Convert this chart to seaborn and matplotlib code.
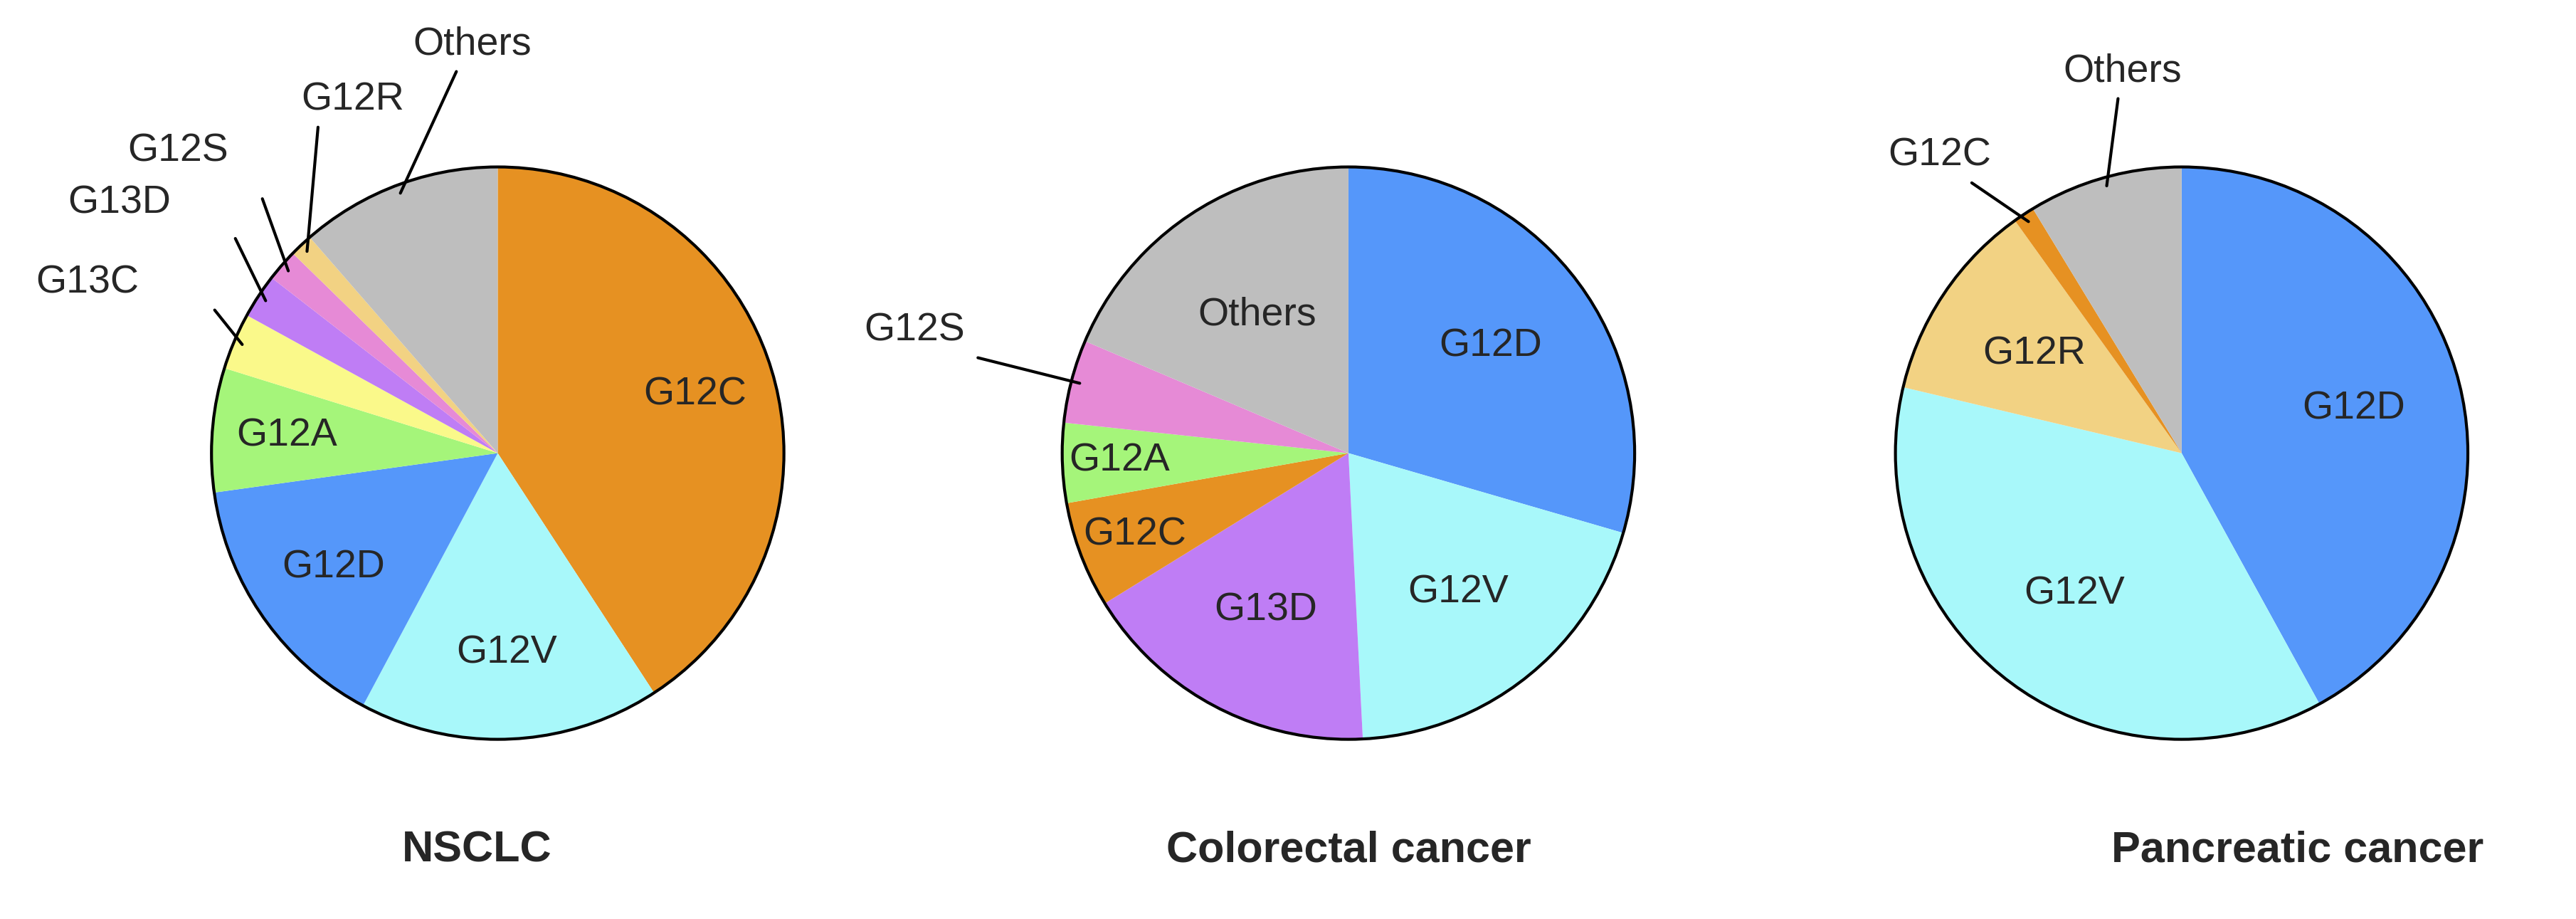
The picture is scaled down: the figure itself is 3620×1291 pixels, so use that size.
import matplotlib
matplotlib.use("Agg")
import matplotlib.pyplot as plt
import seaborn as sns
import numpy as np
from matplotlib.patches import Circle

sns.set_theme(style="white")
plt.rcParams["font.family"] = "Liberation Sans"

colors = {"G12C": "#E69122", "G12V": "#A8F8FA", "G12D": "#5597FA", "G12A": "#A5F57A",
          "G13C": "#FAF98A", "G13D": "#BF7DF5", "G12S": "#E68AD6", "G12R": "#F2D283",
          "Others": "#BEBEBE"}

nsclc_labels = ["G12C", "G12V", "G12D", "G12A", "G13C", "G13D", "G12S", "G12R", "Others"]
nsclc_values = [40.8, 17.0, 15.0, 7.0, 3.2, 2.5, 1.8, 1.3, 11.4]
crc_labels = ["G12D", "G12V", "G13D", "G12C", "G12A", "G12S", "Others"]
crc_values = [29.5, 19.7, 17.0, 6.0, 4.5, 4.7, 18.6]
pdac_labels = ["G12D", "G12V", "G12R", "G12C", "Others"]
pdac_values = [42.0, 36.7, 11.4, 1.2, 8.7]
titles = ["NSCLC", "Colorectal cancer", "Pancreatic cancer"]

W, H = 1620, 578
fig = plt.figure(figsize=(36.2, 12.91), dpi=100)
ax = fig.add_axes([0, 0, 1, 1])

R = 180
pies = [
    dict(labels=nsclc_labels, values=nsclc_values, c=(313, 285), title=(300, 535),
         inside={"G12C": 0.72, "G12V": 0.7, "G12D": 0.7, "G12A": 0.74},
         outside={"Others": ((297, 28), (287, 45)), "G12R": ((222, 63), (200, 80)),
                  "G12S": ((112, 95), (165, 125)), "G13D": ((75, 128), (148, 150)),
                  "G13C": ((55, 178), (135, 195))}),
    dict(labels=crc_labels, values=crc_values, c=(848, 285), title=(848, 535),
         inside={"G12D": 0.62, "G12V": 0.62, "G13D": 0.62, "G12C": 0.8, "G12A": 0.8,
                 "Others": 0.58},
         outside={"G12S": ((575, 208), (615, 225))}),
    dict(labels=pdac_labels, values=pdac_values, c=(1372, 285), title=(1445, 535),
         inside={"G12D": 0.62, "G12V": 0.62, "G12R": 0.62},
         outside={"Others": ((1335, 45), (1332, 62)), "G12C": ((1220, 98), (1240, 115))}),
]

for i, p in enumerate(pies):
    cx, cy = p["c"][0], H - p["c"][1]
    wedges, _ = ax.pie(p["values"], colors=[colors[l] for l in p["labels"]],
                       startangle=90, counterclock=False, center=(cx, cy), radius=R,
                       wedgeprops=dict(linewidth=0), normalize=True)
    ax.add_patch(Circle((cx, cy), R, fill=False, edgecolor="black", lw=3, zorder=5))
    for w, lab in zip(wedges, p["labels"]):
        mid = np.deg2rad((w.theta1 + w.theta2) / 2)
        if lab in p["inside"]:
            d = p["inside"][lab] * R
            ax.text(cx + d * np.cos(mid), cy + d * np.sin(mid), lab, ha="center",
                    va="center", fontsize=40, zorder=6)
        elif lab in p["outside"]:
            (tx, ty), (ex, ey) = p["outside"][lab]
            sx, sy = cx + 0.97 * R * np.cos(mid), cy + 0.97 * R * np.sin(mid)
            ax.plot([sx, ex], [sy, H - ey], color="black", lw=3, zorder=6)
            ax.text(tx, H - ty, lab, ha="center", va="center", fontsize=40, zorder=6)
    ax.text(p["title"][0], H - p["title"][1], titles[i], ha="center",
            va="center", fontsize=44, fontweight="bold")

ax.set_aspect("auto")
ax.set_xlim(0, W); ax.set_ylim(0, H)
ax.axis("off")
fig.savefig("out.png", dpi=100)
